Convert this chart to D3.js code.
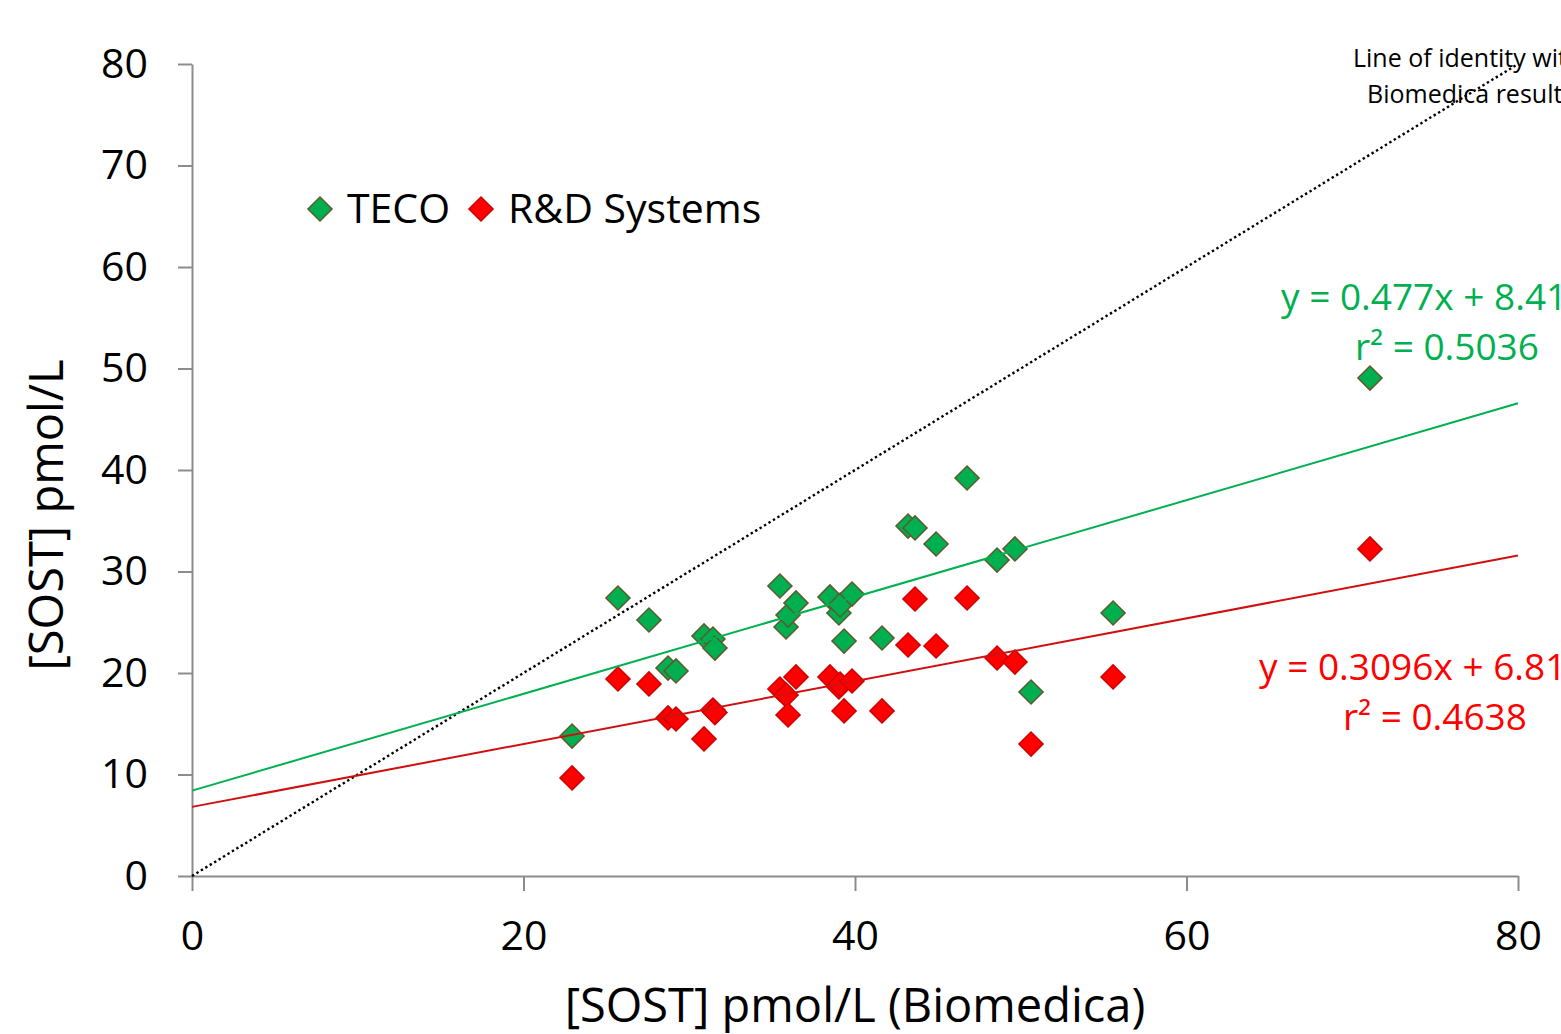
<!DOCTYPE html>
<html><head><meta charset="utf-8">
<script src="https://cdn.jsdelivr.net/npm/d3@7"></script>
<style>
html,body{margin:0;padding:0;background:#fff;}
svg{display:block;font-family:"Open Sans",sans-serif;}
</style></head>
<body>
<script>
// Data
const biomedica = [22.93, 25.70, 27.57, 28.72, 29.20, 30.89, 31.43, 31.55, 35.47, 35.84, 35.96, 36.44, 38.49, 39.03, 39.10, 39.34, 39.82, 41.63, 43.20, 43.62, 44.89, 46.76, 48.57, 49.65, 50.62, 55.57, 71.07];
const teco = [13.79, 27.39, 25.22, 20.49, 20.20, 23.65, 23.35, 22.46, 28.57, 24.53, 25.71, 26.90, 27.49, 25.91, 26.70, 23.15, 27.78, 23.45, 34.48, 34.29, 32.71, 39.21, 31.13, 32.22, 18.13, 25.91, 49.06];
const rnd = [9.66, 19.41, 18.92, 15.57, 15.47, 13.50, 16.35, 16.10, 18.42, 17.83, 15.86, 19.61, 19.61, 18.62, 18.90, 16.26, 19.21, 16.26, 22.76, 27.29, 22.66, 27.39, 21.48, 21.08, 13.00, 19.61, 32.22];
const seriesNames = ["TECO", "R&D Systems"];
const slopes = [0.477, 0.3096];
const intercepts = [8.41, 6.81];
const eqLabels = ["y = 0.477x + 8.41", "y = 0.3096x + 6.81"];
const r2Labels = ["r\u00B2 = 0.5036", "r\u00B2 = 0.4638"];
const xTicks = [0, 20, 40, 60, 80];
const yTicks = [0, 10, 20, 30, 40, 50, 60, 70, 80];
const identityLabel = ["Line of identity with", "Biomedica results"];
const xTitle = "[SOST] pmol/L (Biomedica)";
const yTitle = "[SOST] pmol/L";

const W = 1561, H = 1034;
const colors = {green:"#00B050", greenStroke:"#5E5A2E", red:"#FF0000", redStroke:"#D00000", redLine:"#D01010", axis:"#8C8C8C"};

const svg = d3.select("body").append("svg").attr("width", W).attr("height", H);
const x = d3.scaleLinear().domain([0, 80]).range([192, 1518]);
const y = d3.scaleLinear().domain([0, 80]).range([876, 64]);

// axes
const xAxis = svg.append("g").attr("transform", `translate(0,${y(0)})`)
  .call(d3.axisBottom(x).tickValues(xTicks).tickSize(15).tickSizeOuter(0).tickPadding(30));
const yAxis = svg.append("g").attr("transform", `translate(${x(0)},0)`)
  .call(d3.axisLeft(y).tickValues(yTicks).tickSize(14).tickSizeOuter(0).tickPadding(30));
[xAxis, yAxis].forEach(g => {
  g.select(".domain").attr("stroke", colors.axis).attr("stroke-width", 2);
  g.selectAll(".tick line").attr("stroke", colors.axis).attr("stroke-width", 2);
  g.selectAll(".tick text").attr("fill", "#000").attr("font-family", "Open Sans")
    .attr("font-size", 41);
});
xAxis.selectAll(".tick text").attr("dy", "0.71em");

// identity line
svg.append("line")
  .attr("x1", x(0)).attr("y1", y(0)).attr("x2", x(80)).attr("y2", y(80))
  .attr("stroke", "#000").attr("stroke-width", 2.4).attr("stroke-dasharray", "2.4,2.8");

const sym = d3.symbol().type(d3.symbolSquare).size(290);
const pts = (ys) => biomedica.map((b, i) => [b, ys[i]]);

// markers
svg.append("g").selectAll("path").data(pts(teco)).join("path")
  .attr("d", sym).attr("transform", d => `translate(${x(d[0])},${y(d[1])}) rotate(45)`)
  .attr("fill", colors.green).attr("stroke", colors.greenStroke).attr("stroke-width", 1.5);
svg.append("g").selectAll("path").data(pts(rnd)).join("path")
  .attr("d", sym).attr("transform", d => `translate(${x(d[0])},${y(d[1])}) rotate(45)`)
  .attr("fill", colors.red).attr("stroke", colors.redStroke).attr("stroke-width", 1.5);

// trendlines
const lineCols = [colors.green, colors.redLine];
slopes.forEach((s, i) => {
  svg.append("line")
    .attr("x1", x(0)).attr("y1", y(intercepts[i]))
    .attr("x2", x(80)).attr("y2", y(intercepts[i] + s * 80))
    .attr("stroke", lineCols[i]).attr("stroke-width", 2);
});

// equations
const eqCol = [colors.green, colors.red];
const eqPos = [{x1:1281, y1:310, cx:1447, y2:360}, {x1:1259, y1:680, cx:1435, y2:730}];
eqPos.forEach((p, i) => {
  svg.append("text").attr("x", p.x1).attr("y", p.y1).attr("fill", eqCol[i])
    .attr("font-size", 37).text(eqLabels[i]);
  svg.append("text").attr("x", p.cx).attr("y", p.y2).attr("fill", eqCol[i])
    .attr("text-anchor", "middle").attr("font-size", 37).text(r2Labels[i]);
});

// identity label
svg.append("text").attr("x", 1353).attr("y", 67).attr("font-size", 25).attr("fill", "#000").text(identityLabel[0]);
svg.append("text").attr("x", 1367).attr("y", 103).attr("font-size", 25).attr("fill", "#000").text(identityLabel[1]);

// legend
const legX = [320, 481];
seriesNames.forEach((n, i) => {
  svg.append("path").attr("d", sym)
    .attr("transform", `translate(${legX[i]},209) rotate(45)`)
    .attr("fill", i === 0 ? colors.green : colors.red)
    .attr("stroke", i === 0 ? colors.greenStroke : colors.redStroke).attr("stroke-width", 1.5);
  svg.append("text").attr("x", legX[i] + 27).attr("y", 223).attr("font-size", 41).attr("fill", "#000").text(n);
});

// titles
svg.append("text").attr("x", 855).attr("y", 1022).attr("text-anchor", "middle")
  .attr("font-size", 47).attr("fill", "#000").text(xTitle);
svg.append("text").attr("transform", "translate(63,515) rotate(-90)").attr("text-anchor", "middle")
  .attr("font-size", 47).attr("fill", "#000").text(yTitle);
</script>
</body></html>
